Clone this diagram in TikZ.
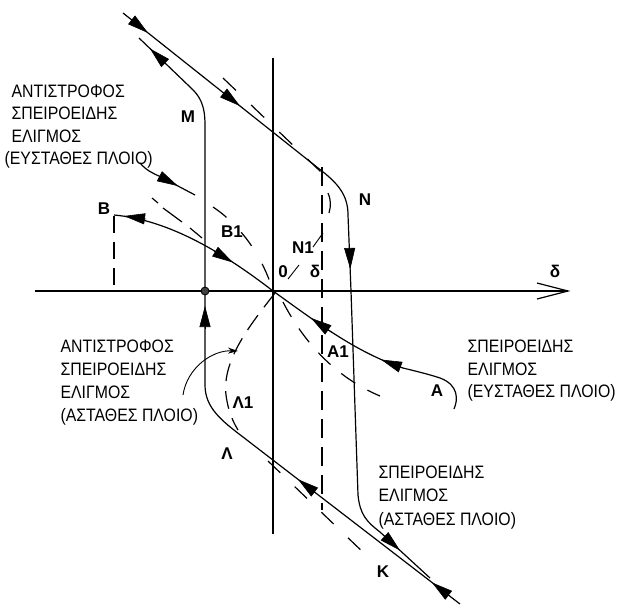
\documentclass[tikz,border=0pt]{standalone}
\usepackage{fontspec}
\setmainfont{Liberation Sans}
\newfontfamily\txtfont[FakeStretch=0.88]{Liberation Sans}
\usetikzlibrary{arrows.meta}
\begin{document}
\begin{tikzpicture}[x=1pt,y=-1pt, line width=1.2pt,
  dsh/.style={line width=1.2pt, dash pattern=on 17pt off 21pt},
  tipa/.style={-{Triangle[length=21pt,width=11pt]}, line width=0.6pt},
  lbl/.style={font=\fontsize{17}{17}\selectfont\bfseries, inner sep=0pt},
  txt/.style={font=\txtfont\fontsize{18}{22}\selectfont, inner sep=0pt, anchor=base west}]
\useasboundingbox (0,0) rectangle (618,606);
% axes
\coordinate (O) at (273,291);
\coordinate (xl) at (35,291);
\coordinate (xr) at (568,291);
\draw (xl) -- (xr);
\draw (537,283) -- (xr) -- (537,299);
\draw (273,58) -- (273,534);
% path N (upper-left to K)
\draw (123,13) -- (318,168) .. controls (338,183) and (348,195) .. (348,215) -- (351,291) -- (358,495) .. controls (360,515) and (367,522) .. (380,532) -- (430,578);
\draw[tipa] (131,19.4) -- (148,32.9);
\draw[tipa] (223,92.5) -- (240,106);
\draw[tipa] (349.6,246) -- (350.3,269);
\draw[tipa] (384,535.7) -- (400,550.4);
% path K - Lambda - M
\draw (460,604) -- (243,437) .. controls (222,421) and (205,408) .. (205,385) -- (205,125) .. controls (205,105) and (200,96) .. (190,87) -- (139,38);
\draw[tipa] (449.4,595.9) -- (432,582.5);
\draw[tipa] (315.4,492.7) -- (298,479.3);
\draw[tipa] (205,329) -- (205,306);
\draw[tipa] (165.9,63.8) -- (150,48.6);
% dot
\fill[black!75] (205,291) circle (4);
\draw[line width=0.8pt] (205,291) circle (4);
% path A - origin - B
\draw (454,409) .. controls (458,400) and (459,385) .. (440,378) .. controls (428,374) and (415,371) .. (403,368) .. controls (355,352) and (315,321) .. (O) .. controls (225,254) and (170,220) .. (114,215);
\draw[tipa] (146,219) -- (124,216);
\draw[tipa] (214,251) -- (233,262.5);
\draw[tipa] (332,332.5) -- (311,318);
\draw[tipa] (403,368) -- (381,359.6);
% pointer upper-left
\draw (140,163) .. controls (146,170) and (152,173) .. (160,176.5) -- (195,195);
\draw[tipa] (159,176) -- (178,186);
\draw[dsh] (213,207) .. controls (240,225) and (262,255) .. (O);
% dashed lines
\draw[dash pattern=on 18pt off 21pt] (223,78) -- (321,172);
\draw[dash pattern=on 19pt off 9pt] (322,167) -- (322,510);
\draw (328,193) .. controls (331,200) and (331,206) .. (329,213);
\draw[line width=0.9pt] (313,247) -- (323,233);
\draw[line width=0.9pt] (288,279) -- (299,265);
\draw (152,198) -- (158,203);
\draw (163,208) -- (182,222);
\draw (190,228) -- (202,238);
\draw[dash pattern=on 18pt off 10pt] (275,293) .. controls (250,325) and (222,360) .. (226,395) .. controls (228,410) and (232,420) .. (238,430);
\draw[dash pattern=on 17pt off 14pt] (283,302) .. controls (300,335) and (330,375) .. (380,396);
\draw[dash pattern=on 17pt off 20pt] (268,461) -- (367,556);
\draw[dash pattern=on 17pt off 9pt] (114,216) -- (114,291);
% pointer lower-left
\draw[-{Stealth[length=10pt,width=6pt]}, line width=0.9pt] (183,395) .. controls (187,368) and (212,350) .. (238,351);
% labels
\node[lbl] (lM) at (188,117) {Μ};
\node[lbl] (lN) at (365,200) {Ν};
\node[lbl] (lB) at (104,209) {Β};
\node[lbl] (lB1) at (232,232) {Β1};
\node[lbl] (lN1) at (303,248) {Ν1};
\node[lbl] (l0) at (283,272) {0};
\node[lbl] (ld) at (315,271) {δ};
\node[lbl] (ldx) at (555,271) {δ};
\node[lbl] (lA1) at (338,352) {Α1};
\node[lbl] (lA) at (437,391) {Α};
\node[lbl] (lL1) at (243,403) {Λ1};
\node[lbl] (lL) at (227,454) {Λ};
\node[lbl] (lK) at (383,572) {Κ};
% texts
\node[txt] (ta1) at (11,97) {ΑΝΤΙΣΤΡΟΦΟΣ};
\node[txt] (ta2) at (11,119.5) {ΣΠΕΙΡΟΕΙΔΗΣ};
\node[txt] (ta3) at (11,142) {ΕΛΙΓΜΟΣ};
\node[txt] (ta4) at (4,164.5) {(ΕΥΣΤΑΘΕΣ ΠΛΟΙΟ)};
\node[txt] (tb1) at (60,352) {ΑΝΤΙΣΤΡΟΦΟΣ};
\node[txt] (tb2) at (60,375) {ΣΠΕΙΡΟΕΙΔΗΣ};
\node[txt] (tb3) at (60,398) {ΕΛΙΓΜΟΣ};
\node[txt] (tb4) at (60,421) {(ΑΣΤΑΘΕΣ ΠΛΟΙΟ)};
\node[txt] (tc1) at (467,352) {ΣΠΕΙΡΟΕΙΔΗΣ};
\node[txt] (tc2) at (467,375) {ΕΛΙΓΜΟΣ};
\node[txt] (tc3) at (467,397.5) {(ΕΥΣΤΑΘΕΣ ΠΛΟΙΟ)};
\node[txt] (td1) at (378,478) {ΣΠΕΙΡΟΕΙΔΗΣ};
\node[txt] (td2) at (378,501.5) {ΕΛΙΓΜΟΣ};
\node[txt] (td3) at (378,525) {(ΑΣΤΑΘΕΣ ΠΛΟΙΟ)};
\end{tikzpicture}
\end{document}
